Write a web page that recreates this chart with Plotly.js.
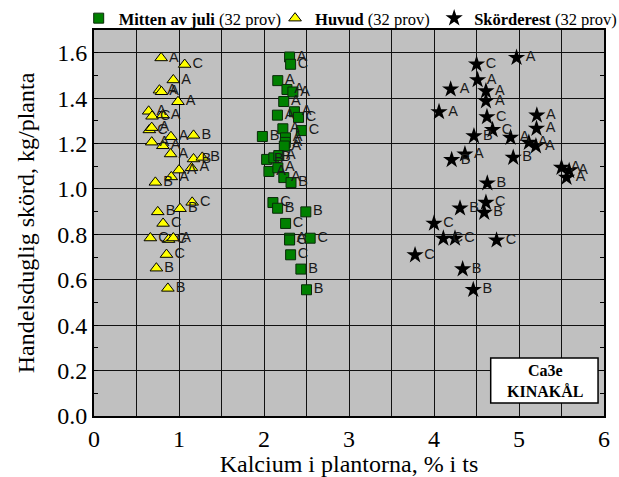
<!DOCTYPE html>
<html>
<head>
<meta charset="utf-8">
<script src="https://cdn.plot.ly/plotly-3.0.1.min.js"></script>
<style>html,body{margin:0;padding:0;background:#fff;}</style>
</head>
<body>
<div id="chart" style="width:619px;height:477px;"></div>
<script>
// Mitten av juli (green squares)
const xMid = [2.301,2.313,2.162,2.270,2.340,2.232,2.158,2.358,2.406,2.440,2.222,1.981,2.253,2.250,2.239,2.031,2.116,2.174,2.058,2.163,2.233,2.318,2.105,2.160,2.492,2.254,2.301,2.301,2.543,2.313,2.434,2.500];
const yMid = [1.581,1.549,1.477,1.438,1.427,1.385,1.325,1.340,1.315,1.257,1.265,1.231,1.225,1.205,1.189,1.130,1.137,1.147,1.077,1.093,1.050,1.028,0.940,0.915,0.899,0.848,0.783,0.775,0.783,0.710,0.647,0.556];
const labMid = ['A','C','A','A','A','A','A','A','C','C','A','B','A','A','A','B','B','A','A','A','A','B','C','B','B','C','A','C','C','C','B','B'];

// Huvud (yellow triangles)
const xHuv = [0.790,1.067,0.933,0.770,0.794,0.988,0.643,0.683,0.810,0.651,0.679,0.905,1.171,0.679,0.810,0.901,1.171,1.274,1.147,1.000,0.909,0.722,1.155,0.750,1.012,0.813,0.663,0.877,0.933,0.853,0.734,0.869];
const yHuv = [1.577,1.548,1.480,1.435,1.428,1.384,1.342,1.320,1.326,1.260,1.270,1.230,1.236,1.206,1.190,1.154,1.132,1.139,1.093,1.083,1.053,1.029,0.941,0.899,0.913,0.848,0.784,0.777,0.784,0.711,0.651,0.562];
const labHuv = ['A','C','A','A','A','A','A','C','A','C','A','A','B','A','A','A','B','B','A','A','A','B','C','B','B','C','C','C','A','C','B','B'];

// Skörderest (black stars)
const xSko = [4.971,4.501,4.513,4.196,4.611,4.611,4.059,4.623,5.210,5.206,4.689,4.470,4.901,5.116,5.199,4.364,4.208,4.932,5.500,5.590,5.559,4.627,4.611,4.306,4.591,4.000,4.110,4.247,4.736,3.777,4.337,4.462];
const ySko = [1.578,1.549,1.480,1.439,1.431,1.387,1.339,1.317,1.324,1.266,1.260,1.233,1.226,1.204,1.189,1.153,1.128,1.138,1.094,1.080,1.050,1.025,0.940,0.915,0.896,0.848,0.782,0.782,0.774,0.709,0.647,0.556];
const labSko = ['A','C','A','A','A','A','A','C','A','A','C','B','A','A','A','A','B','B','A','A','A','B','C','B','B','C','C','C','C','C','B','B'];

const seriesNames = ['<b>Mitten av juli</b> (32 prov)', '<b>Huvud</b> (32 prov)', '<b>Skörderest</b> (32 prov)'];
const xTickVals = [0,1,2,3,4,5,6];
const boxText = '<b>Ca3e</b><br><b>KINAKÅL</b>';

const serif = '"Liberation Serif"';
const sans = '"Liberation Sans"';

const styles = [
  {symbol:'square', size:10, color:'#008000', line:{color:'#0a2a0a', width:1}},
  {symbol:'triangle-up', size:11, color:'#ffff00', line:{color:'#000000', width:1}},
  {symbol:'star', size:13, color:'#000000', line:{color:'#000000', width:0}}
];
const xs = [xMid, xHuv, xSko], ys = [yMid, yHuv, ySko], labs = [labMid, labHuv, labSko];
const legendIds = ['legend', 'legend2', 'legend3'];

const traces = [];
for (let i = 0; i < 3; i++) {
  traces.push({
    type:'scatter', mode:'markers', x:xs[i], y:ys[i], name:seriesNames[i],
    legend:legendIds[i], marker:styles[i], cliponaxis:false, hoverinfo:'skip'
  });
}
for (let i = 0; i < 3; i++) {
  traces.push({
    type:'scatter', mode:'markers+text', x:xs[i], y:ys[i], text:labs[i],
    textposition:'middle right', showlegend:false, hoverinfo:'skip', cliponaxis:false,
    marker:{symbol:styles[i].symbol, size:styles[i].size, color:'rgba(0,0,0,0)'},
    textfont:{family:sans, size:14.5, color:'#1a1a1a'}
  });
}

const legendBase = {orientation:'h', yanchor:'middle', xanchor:'left', y:1.030,
  bgcolor:'rgba(0,0,0,0)', borderwidth:0, font:{family:serif, size:16.5, color:'#000'}};

const layout = {
  width:619, height:477,
  margin:{l:94, r:15, t:30, b:61, pad:0, autoexpand:false},
  paper_bgcolor:'#ffffff', plot_bgcolor:'#c0c0c0',
  showlegend:true,
  legend: Object.assign({}, legendBase, {x:-0.030}),
  legend2: Object.assign({}, legendBase, {x:0.355}),
  legend3: Object.assign({}, legendBase, {x:0.667}),
  xaxis:{
    range:[0,6], tickvals:xTickVals, showgrid:true, gridcolor:'#111111', gridwidth:1,
    minor:{dtick:0.5, tick0:0, showgrid:true, gridcolor:'#111111', gridwidth:1, ticks:''},
    ticks:'', showline:true, linecolor:'#000', linewidth:2, mirror:true, zeroline:false,
    tickfont:{family:serif, size:24, color:'#000'},
    title:{text:'Kalcium i plantorna, % i ts', font:{family:serif, size:24, color:'#000'}, standoff:2}
  },
  yaxis:{
    range:[0,1.7], dtick:0.2, tick0:0, tickformat:'.1f', showgrid:true, gridcolor:'#111111', gridwidth:1,
    ticks:'inside', ticklen:4, tickcolor:'#000',
    minor:{dtick:0.1, tick0:0, ticks:'inside', ticklen:4, tickcolor:'#000', showgrid:false},
    showline:true, linecolor:'#000', linewidth:2, mirror:'ticks', zeroline:false,
    tickfont:{family:serif, size:24, color:'#000'},
    title:{text:'Handelsduglig skörd, kg/planta', font:{family:serif, size:24, color:'#000'}, standoff:16}
  },
  shapes:[{type:'rect', xref:'x', yref:'y', x0:4.667, x1:5.93, y0:0.057, y1:0.255,
    fillcolor:'#ffffff', line:{color:'#000', width:1.5}, layer:'above'}],
  annotations:[{xref:'x', yref:'y', x:5.30, y:0.156, text:boxText, showarrow:false,
    font:{family:serif, size:16, color:'#000'}, align:'center'}]
};

Plotly.newPlot('chart', traces, layout, {displayModeBar:false, staticPlot:true});
</script>
</body>
</html>
